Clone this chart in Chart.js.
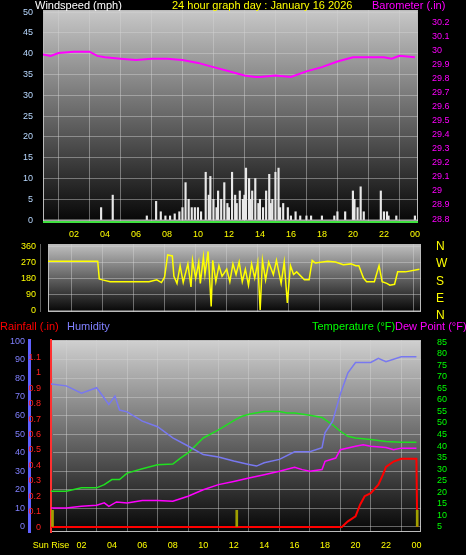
<!DOCTYPE html>
<html>
<head>
<meta charset="utf-8">
<script src="https://cdn.jsdelivr.net/npm/chart.js@4.4.1/dist/chart.umd.min.js"></script>
<style>
  body { margin: 0; background: #000; width: 466px; height: 555px; overflow: hidden; position: relative; font-family: "Liberation Sans", Arial, sans-serif; }
  .c { position: absolute; left: 0; }
  .t { position: absolute; font-size: 11px; white-space: nowrap; line-height: 11px; }
</style>
</head>
<body>
<div class="c" style="top:0;width:466px;height:245px"><canvas id="top"></canvas></div>
<div class="c" style="top:240px;width:466px;height:78px"><canvas id="dir"></canvas></div>
<div class="c" style="top:335px;width:466px;height:220px"><canvas id="bot"></canvas></div>
<div class="t" style="left:35px;top:0px;color:#fff">Windspeed (mph)</div>
<div class="t" style="left:172px;top:0px;color:#ffff00">24 hour graph day : January 16 2026</div>
<div class="t" style="left:372px;top:0px;color:#ff00ff">Barometer (.in)</div>
<div class="t" style="left:436px;top:238px;color:#ffff00;font-size:12px;line-height:17.3px">N<br>W<br>S<br>E<br>N</div>
<div class="t" style="left:0px;top:321px;color:#ff0000">Rainfall (.in)</div>
<div class="t" style="left:67px;top:321px;color:#8080ff">Humidity</div>
<div class="t" style="left:312px;top:321px;color:#00ff00">Temperature (°F)</div>
<div class="t" style="left:395px;top:321px;color:#ff00ff">Dew Point (°F)</div>
<script>
// hours of day on x
const windGust = [
  [3.75,3],[4.5,6],[6.7,1],[7.3,4.5],[7.6,2],[7.9,1],[8.2,1],[8.5,1.5],[8.8,2],[9.0,3],[9.2,9],[9.4,5],[9.6,3],[9.8,3],
  [10.0,3],[10.2,2],[10.5,11.5],[10.7,6],[10.8,10.5],[11.0,5],[11.2,3],[11.3,7],[11.5,5],[11.7,9],[11.9,4],[12.0,3],
  [12.2,11.5],[12.4,6],[12.5,4],[12.7,7],[12.9,5],[13.0,6],[13.1,12.5],[13.3,10],[13.4,5],[13.5,7],[13.7,10],[13.9,4],
  [14.0,5],[14.2,3],[14.4,7],[14.6,11],[14.7,4],[14.8,5],[15.0,11.5],[15.2,12.5],[15.3,3],[15.5,4],[15.8,3],[16.0,1],
  [16.3,2],[16.6,1],[17.0,1],[17.3,1],[18.0,1],[18.8,1],[19.0,2],[19.5,2],[20.0,7],[20.1,5],[20.3,3],[20.5,8],
  [20.7,2],[21.8,7],[22.0,2],[22.2,2],[22.3,1],[22.8,1],[24.0,1]
];
const baroHours = [0,0.5,1,2,3,3.5,4,5,6,7,8,9,10,11,12,13,13.7,14,15,16,17,18,19,20,21,22,22.5,23,24];
const baroValues = [29.97,29.96,29.98,29.99,29.99,29.96,29.95,29.94,29.93,29.94,29.94,29.93,29.91,29.88,29.85,29.82,29.81,29.81,29.82,29.81,29.85,29.88,29.92,29.95,29.95,29.95,29.94,29.96,29.95];

const dirHours = [0,3.7,3.8,4,4.5,6,7,7.5,7.8,8.0,8.2,8.5,8.6,8.8,9.0,9.2,9.5,9.7,9.8,10,10.2,10.3,10.5,10.6,10.8,11,11.1,11.3,11.5,11.7,12,12.2,12.4,12.6,12.8,13,13.2,13.4,13.6,13.8,14,14.15,14.3,14.5,14.7,15,15.2,15.5,15.7,15.9,16.1,16.3,16.5,17,17.3,17.5,17.7,18.5,19,19.5,20,20.3,20.5,20.8,21,21.5,21.8,22,22.3,22.5,22.8,23,23.5,24.4];
const dirValues = [275,275,175,170,160,160,160,170,155,185,310,305,190,150,250,155,260,130,280,180,270,150,300,200,330,20,280,160,250,190,230,160,260,200,270,160,230,140,260,180,270,0,280,170,270,200,280,150,270,40,250,200,215,170,170,280,265,275,270,255,260,250,250,180,160,160,250,160,150,140,145,215,215,230];

const humHours = [0,1,2,3,3.8,4.2,4.5,5,6,7,8,9,10,11,12,13,13.5,14,15,16,17,17.8,18,18.5,19,19.5,20,21,21.5,22,23,24];
const humValues = [77,76,72,75,66,70.5,63,62,57,54,48,43.6,39,37.7,35.5,33.7,32.8,34.6,36.4,40.5,40.5,42.7,50.8,57,71.5,83,88.6,88.6,90.8,89,91.7,91.7];
const tempHours = [0,1,2,3,3.5,4,4.5,5,6,7,8,8.5,9,10,11,12,12.5,13,14,15,15.5,16,17,17.8,18,18.5,19,19.5,20,21,22,23,24];
const tempValues = [20.4,20.4,21.9,21.9,23.3,25.5,25.5,28.3,30.2,31.9,32.2,34.8,37,43.5,47,51,52.8,53.8,55,55,54.3,54.3,53.3,52.4,51.4,49.2,46.4,44.2,43.5,42.8,42,41.6,41.6];
const dewHours = [0,1,2,3,3.5,3.8,4.3,5,6,7,8,8.5,9,10,11,12,13,14,15,16,16.5,17,17.8,18,18.7,19,20,20.5,21,22,22.5,23,24];
const dewValues = [13.2,13.2,13.9,14.4,15.4,13.9,15.8,15.4,16.4,16.4,16.1,17.2,18.3,21.1,23.3,24.7,26.2,27.6,29.1,30.8,29.8,29.1,29.8,33.4,34.8,38.4,39.9,40.6,39.9,39.4,38.4,39.1,39.1];
const rainHours = [0,19.1,19.5,20,20.3,20.6,21,21.5,21.8,22,22.5,23,23.5,24,24.05];
const rainValues = [0,0,0.037,0.07,0.145,0.2,0.22,0.275,0.34,0.39,0.425,0.443,0.443,0.443,0];
const sunMarks = [[0.1,9],[12.2,9],[24.05,9]];

const hourTicks = [0,2,4,6,8,10,12,14,16,18,20,22,24];
const hourLabels = ['00','02','04','06','08','10','12','14','16','18','20','22','00'];

const pts = (xs, ys) => xs.map((x, i) => ({x: x, y: ys[i]}));
const grid = { color: 'rgba(210,210,210,0.45)', borderDash: [1, 2], drawTicks: false };
const tickFont = { family: 'Liberation Sans', size: 9 };
const setTicks = vals => s => { s.ticks = vals.map(v => ({value: v})); };

function gradientBg(topCol) {
  return {
    id: 'bg',
    beforeDraw(chart) {
      const {ctx, chartArea: a} = chart;
      const g = ctx.createLinearGradient(0, a.top, 0, a.bottom);
      g.addColorStop(0, topCol);
      g.addColorStop(1, '#050505');
      ctx.save();
      ctx.fillStyle = g;
      ctx.fillRect(a.left, a.top, a.right - a.left, a.bottom - a.top);
      ctx.strokeStyle = '#bbbbbb';
      ctx.lineWidth = 1;
      ctx.strokeRect(a.left + 0.5, a.top + 0.5, a.right - a.left - 1, a.bottom - a.top - 1);
      ctx.restore();
    }
  };
}
// force exact axis sizes, no label overhang padding
const fixW = w => s => { s.width = w; s.paddingTop = 0; s.paddingBottom = 0; };
const fixH = h => s => { s.height = h; s.paddingLeft = 0; s.paddingRight = 0; };

const common = {
  animation: false, responsive: true, maintainAspectRatio: false,
  plugins: { legend: { display: false }, tooltip: { enabled: false } }
};

new Chart(document.getElementById('top'), {
  type: 'line',
  data: {
    datasets: [
      { type: 'line', data: pts(baroHours, baroValues), yAxisID: 'baro', borderColor: '#ff00ff', borderWidth: 2, pointRadius: 0, tension: 0 },
      { type: 'bar', data: windGust.map(d => ({x: d[0], y: d[1]})), yAxisID: 'wind', backgroundColor: '#e8e8e8', barThickness: 1.5 },
      { type: 'line', data: [{x: 0, y: 0}, {x: 24.2, y: 0}], yAxisID: 'wind', borderColor: '#d0d0d0', borderWidth: 1, pointRadius: 0 },
      { type: 'line', data: [{x: 0, y: -0.45}, {x: 24.2, y: -0.45}], yAxisID: 'wind', borderColor: '#40e040', borderWidth: 2, pointRadius: 0 }
    ]
  },
  options: Object.assign({}, common, {
    layout: { padding: { top: 10, left: 0, right: 0, bottom: 0 } },
    scales: {
      x: { type: 'linear', min: 0, max: 24.2, offset: false, grid: grid, border: { display: false },
           afterFit: fixH(22), afterBuildTicks: setTicks(hourTicks),
           ticks: { autoSkip: false, maxRotation: 0, color: '#ffff00', font: tickFont, padding: 6,
                    callback: v => (v === 0 ? '' : hourLabels[v / 2]) } },
      wind: { position: 'left', min: -0.7, max: 50.5, afterFit: fixW(43), grid: grid, border: { display: false },
              afterBuildTicks: setTicks([0,5,10,15,20,25,30,35,40,45,50]),
              ticks: { autoSkip: false, color: '#b8d8ff', font: tickFont, padding: 10 } },
      baro: { position: 'right', min: 28.772, max: 30.286, afterFit: fixW(48), grid: { display: false }, border: { display: false },
              afterBuildTicks: setTicks([28.8,28.9,29,29.1,29.2,29.3,29.4,29.5,29.6,29.7,29.8,29.9,30,30.1,30.2]),
              ticks: { autoSkip: false, color: '#ff00ff', font: tickFont, padding: 6, callback: v => (+v.toFixed(1)).toString() } }
    }
  }),
  plugins: [gradientBg('#c8c8c8')]
});

new Chart(document.getElementById('dir'), {
  type: 'line',
  data: { datasets: [
    { data: pts(dirHours, dirValues), borderColor: '#ffff00', borderWidth: 1.5, pointRadius: 0, tension: 0 }
  ] },
  options: Object.assign({}, common, {
    layout: { padding: { top: 4, bottom: 6 } },
    scales: {
      x: { type: 'linear', min: 0.5, max: 24.5, grid: grid, border: { display: false },
           afterFit: fixH(0), afterBuildTicks: setTicks(hourTicks), ticks: { display: false } },
      y: { position: 'left', min: -11, max: 372, afterFit: fixW(48), grid: grid, border: { display: false },
           afterBuildTicks: setTicks([0,90,180,270,360]),
           ticks: { autoSkip: false, color: '#ffff00', font: tickFont, padding: 12 } },
      r: { position: 'right', afterFit: fixW(45), grid: { display: false }, border: { display: false }, ticks: { display: false } }
    }
  }),
  plugins: [gradientBg('#c0c0c0')]
});

new Chart(document.getElementById('bot'), {
  type: 'line',
  data: { datasets: [
    { type: 'bar', data: sunMarks.map(d => ({x: d[0], y: d[1]})), yAxisID: 'hum', backgroundColor: '#a0a000', barThickness: 2 },
    { data: pts(humHours, humValues), yAxisID: 'hum', borderColor: '#7878f0', borderWidth: 1.5, pointRadius: 0, tension: 0 },
    { data: pts(tempHours, tempValues), yAxisID: 'temp', borderColor: '#20e020', borderWidth: 1.5, pointRadius: 0, tension: 0 },
    { data: pts(dewHours, dewValues), yAxisID: 'temp', borderColor: '#ff00ff', borderWidth: 1.5, pointRadius: 0, tension: 0 },
    { data: pts(rainHours, rainValues), yAxisID: 'rain', borderColor: '#ff0000', borderWidth: 2, pointRadius: 0, tension: 0 }
  ] },
  options: Object.assign({}, common, {
    layout: { padding: { top: 5 } },
    scales: {
      x: { type: 'linear', min: 0, max: 24.3, offset: false, grid: grid, border: { display: false }, afterFit: fixH(23),
           afterBuildTicks: setTicks(hourTicks),
           ticks: { autoSkip: false, maxRotation: 0, color: '#ffff00', font: tickFont, padding: 8,
                    callback: v => (v === 0 ? 'Sun Rise' : hourLabels[v / 2]) } },
      hum: { position: 'left', weight: 1, min: -2.7, max: 100.7, afterFit: fixW(29), grid: grid,
             border: { display: true, color: '#6060ff', width: 3 },
             afterBuildTicks: setTicks([0,10,20,30,40,50,60,70,80,90,100]),
             ticks: { autoSkip: false, color: '#8080ff', font: tickFont, padding: 4 } },
      rain: { position: 'left', weight: 0, min: -0.032, max: 1.213, afterFit: fixW(22), grid: { display: false },
              border: { display: true, color: '#ff3030', width: 2 },
              afterBuildTicks: setTicks([0,0.1,0.2,0.3,0.4,0.5,0.6,0.7,0.8,0.9,1,1.1]),
              ticks: { autoSkip: false, color: '#ff2020', font: tickFont, padding: 2, callback: v => (+v.toFixed(1)).toString() } },
      temp: { position: 'right', min: 2.8, max: 85.9, afterFit: fixW(45), grid: { display: false }, border: { display: false },
              afterBuildTicks: setTicks([5,10,15,20,25,30,35,40,45,50,55,60,65,70,75,80,85]),
              ticks: { autoSkip: false, color: '#00ff00', font: tickFont, padding: 8 } }
    }
  }),
  plugins: [gradientBg('#d0d0d0')]
});
</script>
</body>
</html>
